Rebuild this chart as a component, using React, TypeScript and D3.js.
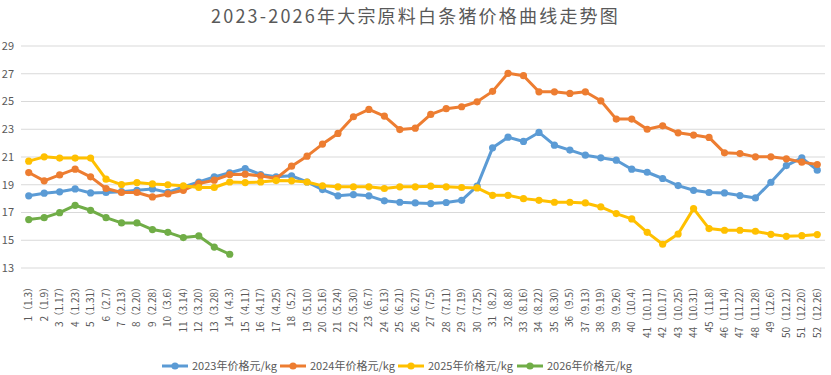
import React from "react";
import * as d3 from "d3";

const categories = [
  "1（1.3）","2（1.9）","3（1.17）","4（1.23）","5（1.31）","6（2.7）","7（2.13）","8（2.20）","9（2.28）","10（3.6）",
  "11（3.14）","12（3.20）","13（3.28）","14（4.3）","15（4.11）","16（4.17）","17（4.25）","18（5.2）","19（5.10）","20（5.16）",
  "21（5.24）","22（5.30）","23（6.7）","24（6.13）","25（6.21）","26（6.27）","27（7.5）","28（7.11）","29（7.19）","30（7.25）",
  "31（8.2）","32（8.8）","33（8.16）","34（8.22）","35（8.30）","36（9.5）","37（9.13）","38（9.19）","39（9.26）","40（10.4）",
  "41（10.11）","42（10.17）","43（10.25）","44（10.31）","45（11.8）","46（11.14）","47（11.22）","48（11.28）","49（12.6）","50（12.12）",
  "51（12.20）","52（12.26）"
];

const y2023 = [
  18.2, 18.39, 18.49, 18.7, 18.41, 18.44, 18.5, 18.6, 18.7, 18.45,
  18.85, 19.2, 19.57, 19.86, 20.17, 19.74, 19.57, 19.64, 19.2, 18.65,
  18.2, 18.29, 18.2, 17.84, 17.74, 17.69, 17.64, 17.72, 17.88, 18.9,
  21.66, 22.43, 22.12, 22.77, 21.85, 21.5, 21.13, 20.94, 20.77, 20.12,
  19.9, 19.45, 18.94, 18.6, 18.44, 18.41, 18.22, 18.05, 19.18, 20.38,
  20.94, 20.05
];

const y2024 = [
  19.88, 19.28, 19.71, 20.12, 19.57, 18.73, 18.44, 18.44, 18.12, 18.34,
  18.6, 19.09, 19.33, 19.74, 19.76, 19.64, 19.45, 20.34, 21.06, 21.93,
  22.7, 23.9, 24.43, 23.95, 22.98, 23.08, 24.07, 24.48, 24.62, 24.98,
  25.73, 27.03, 26.86, 25.7, 25.7, 25.58, 25.7, 25.05, 23.73, 23.73,
  23.0, 23.25, 22.74, 22.58, 22.41, 21.3, 21.25, 21.01, 21.01, 20.87,
  20.63, 20.46
];

const y2025 = [
  20.7, 21.01, 20.92, 20.92, 20.92, 19.4, 19.01, 19.16, 19.06, 19.0,
  18.92, 18.8, 18.8, 19.2, 19.16, 19.2, 19.3, 19.28, 19.2, 18.92,
  18.85, 18.85, 18.85, 18.73, 18.85, 18.85, 18.9, 18.85, 18.8, 18.77,
  18.24, 18.24, 18.0, 17.88, 17.74, 17.74, 17.69, 17.4, 16.92, 16.54,
  15.57, 14.71, 15.45, 17.28, 15.84, 15.72, 15.72, 15.65, 15.43, 15.28,
  15.33, 15.41
];

const y2026 = [
  16.49, 16.63, 16.99, 17.52, 17.16, 16.63, 16.25, 16.25, 15.77, 15.57,
  15.19, 15.31, 14.51, 13.99
];

const yTicks = [13, 15, 17, 19, 21, 23, 25, 27, 29];

const seriesNames = ["2023年价格元/kg", "2024年价格元/kg", "2025年价格元/kg", "2026年价格元/kg"];
const seriesColors = ["#5B9BD5", "#ED7D31", "#FFC000", "#70AD47"];
const seriesData = [y2023, y2024, y2025, y2026];

const W = 831;
const H = 375;
const FONT = "'Noto Sans CJK SC', 'Noto Sans', sans-serif";

export default function App() {
  const x = d3.scaleBand<string>().domain(categories).range([21, 825]).paddingInner(0).paddingOuter(0);
  const y = d3.scaleLinear().domain([13, 29]).range([268, 46]);
  const cx = (i: number) => (x(categories[i]) as number) + x.bandwidth() / 2;
  const line = d3
    .line<number>()
    .x((_, i) => cx(i))
    .y((d) => y(d));

  const legendX = [162, 280, 398, 517];

  return (
    <svg
      width={W}
      height={H}
      style={{ position: "absolute", left: 0, top: 0, background: "#fff" }}
      fontFamily={FONT}
    >
      <rect x={0} y={0} width={W} height={H} fill="#fff" />
      <text x={415.5} y={23} textAnchor="middle" fontSize={18} fill="#595959" letterSpacing={2.2}>
        2023-2026年大宗原料白条猪价格曲线走势图
      </text>
      {yTicks.map((t) => (
        <g key={t}>
          <line x1={21} x2={825} y1={y(t)} y2={y(t)} stroke="#D9D9D9" strokeWidth={1} />
          <text x={14} y={y(t) + 3.8} textAnchor="end" fontSize={11} fill="#595959">
            {t}
          </text>
        </g>
      ))}
      {categories.map((c, i) => (
        <text
          key={c}
          transform={`translate(${cx(i) + 3.5},282) rotate(-90)`}
          textAnchor="end"
          fontSize={10}
          fill="#595959"
        >
          {c}
        </text>
      ))}
      {seriesData.map((data, s) => (
        <g key={s}>
          <path d={line(data) || ""} fill="none" stroke={seriesColors[s]} strokeWidth={3} strokeLinejoin="round" strokeLinecap="round" />
          {data.map((v, i) => (
            <circle key={i} cx={cx(i)} cy={y(v)} r={3.6} fill={seriesColors[s]} />
          ))}
        </g>
      ))}
      {seriesNames.map((n, s) => (
        <g key={n} transform={`translate(${legendX[s]},366)`}>
          <line x1={0} x2={26} y1={0} y2={0} stroke={seriesColors[s]} strokeWidth={3} />
          <circle cx={13} cy={0} r={3.6} fill={seriesColors[s]} />
          <text x={30} y={4} fontSize={11} fill="#595959">
            {n}
          </text>
        </g>
      ))}
    </svg>
  );
}
